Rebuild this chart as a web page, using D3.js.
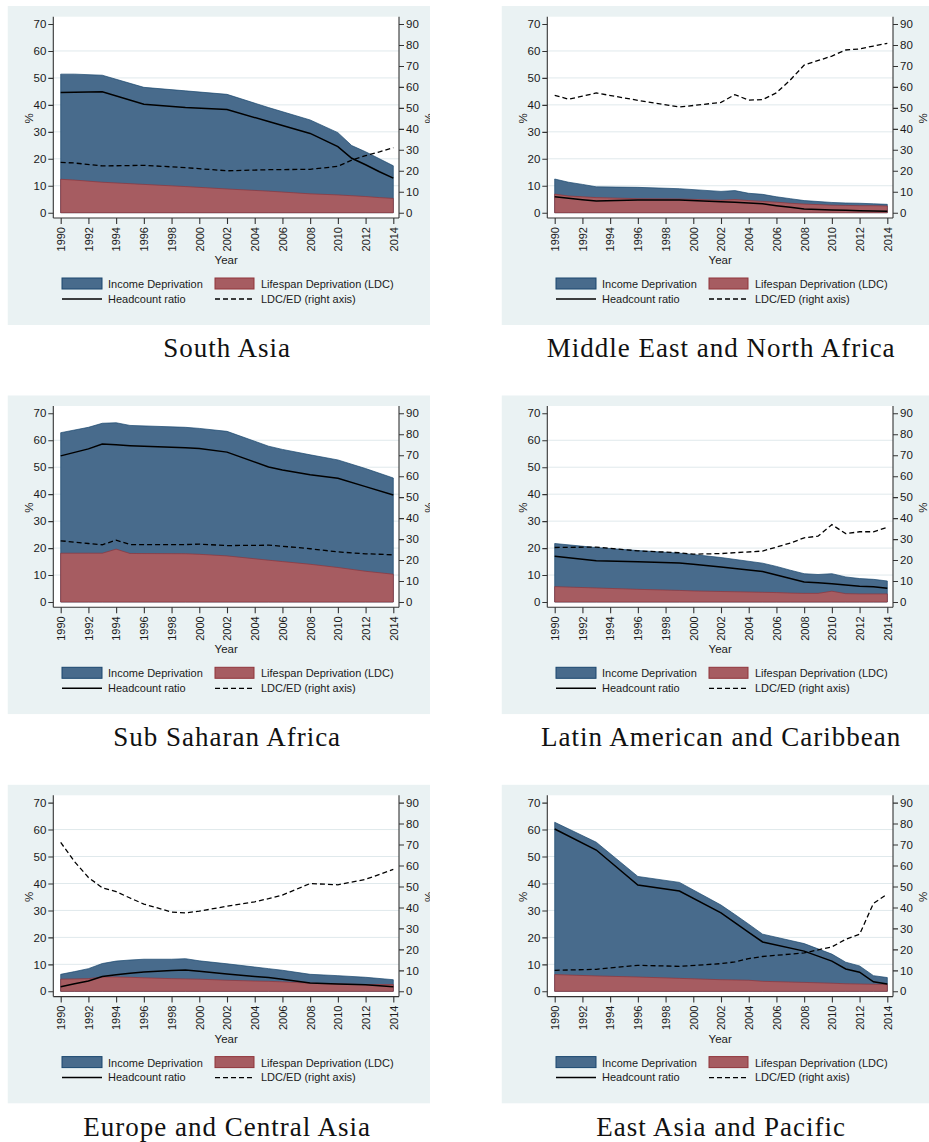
<!DOCTYPE html>
<html>
<head>
<meta charset="utf-8">
<script src="https://cdn.jsdelivr.net/npm/d3@7"></script>
<style>
  body { margin: 0; background: #fff; }
  svg { display: block; }
  text { font-family: "Liberation Sans", Arial, Helvetica, sans-serif; }
</style>
</head>
<body>
<svg id="chart" width="929" height="1142"></svg>
<script>
// ---- Regional poverty decomposition, 1990-2014 ----
// For each region: income = top of income-deprivation area, lifespan = lifespan deprivation (LDC),
// headcount = headcount ratio, ratio = LDC/ED (right axis). All in %.

const saYears     = [1990, 1991, 1993, 1996, 1999, 2002, 2005, 2008, 2010, 2011, 2012, 2013, 2014];
const saIncome    = [51.4, 51.4, 51.0, 46.5, 45.2, 43.9, 39.0, 34.4, 29.7, 24.9, 22.6, 20.0, 17.4];
const saLifespan  = [12.4, 12.1, 11.3, 10.5, 9.7, 8.8, 8.0, 7.0, 6.6, 6.3, 6.0, 5.6, 5.3];
const saHeadcount = [44.6, 44.7, 44.9, 40.2, 39.0, 38.3, 33.8, 29.4, 24.5, 20.2, 17.8, 15.2, 12.8];
const saRatio     = [24.0, 23.7, 22.3, 22.6, 21.5, 20.0, 20.5, 20.7, 22.1, 25.1, 27.2, 29.0, 31.0];

const menaYears     = [1990, 1991, 1992, 1993, 1996, 1999, 2002, 2003, 2004, 2005, 2006, 2007, 2008, 2010, 2011, 2012, 2013, 2014];
const menaIncome    = [12.5, 11.3, 10.5, 9.6, 9.4, 8.9, 7.9, 8.2, 7.2, 6.8, 5.9, 5.2, 4.5, 3.8, 3.6, 3.5, 3.3, 3.1];
const menaLifespan  = [6.9, 6.2, 5.9, 5.6, 5.2, 5.1, 4.6, 4.9, 4.5, 4.2, 3.9, 3.5, 3.2, 2.8, 2.7, 2.6, 2.6, 2.5];
const menaHeadcount = [5.9, 5.4, 4.8, 4.3, 4.7, 4.7, 4.1, 3.9, 3.6, 3.3, 2.6, 2.0, 1.4, 1.0, 0.9, 0.7, 0.6, 0.5];
const menaRatio     = [56.0, 54.1, 55.6, 57.1, 53.6, 50.4, 52.6, 56.3, 53.7, 53.9, 57.2, 63.3, 70.4, 74.7, 77.6, 78.1, 79.5, 80.8];

const ssaYears     = [1990, 1992, 1993, 1994, 1995, 1999, 2000, 2002, 2005, 2006, 2008, 2010, 2012, 2014];
const ssaIncome    = [62.8, 64.8, 66.3, 66.5, 65.5, 64.8, 64.4, 63.3, 57.8, 56.6, 54.6, 52.7, 49.5, 46.0];
const ssaLifespan  = [18.1, 18.1, 18.1, 19.6, 18.0, 17.9, 17.7, 17.1, 15.5, 15.0, 14.0, 12.8, 11.4, 10.3];
const ssaHeadcount = [54.2, 56.8, 58.6, 58.3, 58.0, 57.2, 56.9, 55.6, 50.1, 49.0, 47.2, 45.9, 42.8, 39.7];
const ssaRatio     = [29.2, 27.9, 27.3, 29.5, 27.4, 27.4, 27.6, 26.9, 27.1, 26.6, 25.4, 23.9, 23.0, 22.5];

const lacYears     = [1990, 1993, 1996, 1999, 2000, 2002, 2005, 2006, 2007, 2008, 2009, 2010, 2011, 2012, 2013, 2014];
const lacIncome    = [21.7, 20.2, 19.1, 18.1, 17.6, 16.5, 14.4, 13.2, 11.8, 10.5, 10.2, 10.5, 9.3, 8.7, 8.4, 7.8];
const lacLifespan  = [5.7, 5.2, 4.7, 4.3, 4.1, 3.9, 3.6, 3.5, 3.3, 3.2, 3.2, 4.0, 3.1, 3.0, 3.0, 3.0];
const lacHeadcount = [17.0, 15.3, 14.9, 14.5, 14.0, 13.0, 11.3, 10.0, 8.7, 7.4, 7.1, 6.8, 6.3, 5.8, 5.7, 5.1];
const lacRatio     = [26.0, 26.2, 24.4, 23.5, 22.8, 23.1, 24.3, 26.2, 28.1, 30.6, 31.4, 36.9, 32.6, 33.5, 33.5, 35.6];

const ecaYears     = [1990, 1991, 1992, 1993, 1994, 1995, 1996, 1998, 1999, 2000, 2002, 2004, 2005, 2006, 2008, 2010, 2012, 2014];
const ecaIncome    = [6.3, 7.3, 8.4, 10.3, 11.2, 11.6, 11.9, 11.9, 12.1, 11.3, 10.2, 9.0, 8.4, 7.8, 6.3, 5.8, 5.2, 4.3];
const ecaLifespan  = [4.5, 4.6, 4.7, 5.3, 5.3, 5.2, 5.0, 4.7, 4.6, 4.5, 4.1, 3.8, 3.7, 3.5, 3.0, 2.7, 2.5, 2.5];
const ecaHeadcount = [1.7, 2.8, 3.8, 5.5, 6.1, 6.7, 7.2, 7.7, 7.9, 7.4, 6.4, 5.5, 5.1, 4.5, 3.1, 2.7, 2.4, 1.7];
const ecaRatio     = [71.0, 61.8, 54.3, 49.4, 47.5, 44.5, 41.6, 37.8, 37.4, 38.2, 40.6, 42.7, 44.2, 45.9, 51.4, 50.8, 53.4, 58.1];

const eapYears     = [1990, 1993, 1996, 1999, 2002, 2003, 2004, 2005, 2008, 2010, 2011, 2012, 2013, 2014];
const eapIncome    = [62.7, 55.3, 42.6, 40.4, 32.0, 28.5, 24.9, 21.2, 17.7, 13.8, 10.8, 9.4, 5.8, 5.1];
const eapLifespan  = [6.2, 5.7, 5.3, 4.8, 4.3, 4.2, 4.1, 3.7, 3.3, 3.0, 2.8, 2.7, 2.6, 2.5];
const eapHeadcount = [60.2, 52.4, 39.4, 37.2, 29.1, 25.5, 21.9, 18.3, 14.9, 11.2, 8.3, 7.1, 3.5, 2.7];
const eapRatio     = [10.0, 10.5, 12.4, 11.9, 13.2, 14.0, 15.6, 16.6, 18.3, 21.2, 24.8, 27.2, 41.9, 46.4];

// Axis ticks and labels
const leftTicks   = [0, 10, 20, 30, 40, 50, 60, 70];
const rightTicks  = [0, 10, 20, 30, 40, 50, 60, 70, 80, 90];
const yearTicks   = [1990, 1992, 1994, 1996, 1998, 2000, 2002, 2004, 2006, 2008, 2010, 2012, 2014];
const legendItems = ["Income Deprivation", "Lifespan Deprivation (LDC)", "Headcount ratio", "LDC/ED (right axis)"];

const regionNames = ["South Asia", "Middle East and North Africa", "Sub Saharan Africa",
                     "Latin American and Caribbean", "Europe and Central Asia", "East Asia and Pacific"];

const regions = [
  { years: saYears,   income: saIncome,   lifespan: saLifespan,   headcount: saHeadcount,   ratio: saRatio },
  { years: menaYears, income: menaIncome, lifespan: menaLifespan, headcount: menaHeadcount, ratio: menaRatio },
  { years: ssaYears,  income: ssaIncome,  lifespan: ssaLifespan,  headcount: ssaHeadcount,  ratio: ssaRatio },
  { years: lacYears,  income: lacIncome,  lifespan: lacLifespan,  headcount: lacHeadcount,  ratio: lacRatio },
  { years: ecaYears,  income: ecaIncome,  lifespan: ecaLifespan,  headcount: ecaHeadcount,  ratio: ecaRatio },
  { years: eapYears,  income: eapIncome,  lifespan: eapLifespan,  headcount: eapHeadcount,  ratio: eapRatio }
].map((r, i) => ({ ...r, name: regionNames[i], col: i % 2, row: Math.floor(i / 2) }));

// ---- Styling ----
const C = {
  region: "#eaf2f3",
  grid: "#e0e9ec",
  incomeFill: "#486b8c", incomeLine: "#1a476f",
  lifeFill: "#a65c61", lifeLine: "#90353b",
  axis: "#333333", text: "#1a1a1a"
};

// ---- Panel geometry (local to each panel) ----
const colX = [0, 494];
const rowY = [0, 389.3, 778.6];
const G = {
  bgX: 7.5, bgY: 6, bgW: [422.5, 427.5], bgH: 319,
  plotL: 53.3, plotR: 399, plotT: 16.7, plotB: 218,
  xL: 60.7, xR: 393.3, y0: 212.7, yTop: 24
};

const svg = d3.select("#chart");
const defs = svg.append("defs");

const x = d3.scaleLinear().domain([1990, 2014]).range([G.xL, G.xR]);
const yL = d3.scaleLinear().domain([0, 70]).range([G.y0, G.yTop]);
const yR = d3.scaleLinear().domain([0, 90]).range([G.y0, G.yTop]);

regions.forEach((r, idx) => {
  const g = svg.append("g").attr("transform", `translate(${colX[r.col]},${rowY[r.row]})`);

  defs.append("clipPath").attr("id", "clip" + idx)
    .append("rect").attr("x", G.bgX).attr("y", G.bgY).attr("width", G.bgW[r.col]).attr("height", G.bgH);

  const p = g.append("g").attr("clip-path", `url(#clip${idx})`);

  p.append("rect").attr("x", G.bgX).attr("y", G.bgY)
    .attr("width", G.bgW[r.col]).attr("height", G.bgH).attr("fill", C.region);

  p.append("rect").attr("x", G.plotL).attr("y", G.plotT)
    .attr("width", G.plotR - G.plotL).attr("height", G.plotB - G.plotT).attr("fill", "#fff");

  // horizontal grid
  p.append("g").selectAll("line").data(leftTicks.filter(t => t > 0 && t < 70)).join("line")
    .attr("x1", G.plotL).attr("x2", G.plotR)
    .attr("y1", d => yL(d)).attr("y2", d => yL(d))
    .attr("stroke", C.grid).attr("stroke-width", 1);

  const rows = r.years.map((yr, i) => ({
    year: yr, income: r.income[i], lifespan: r.lifespan[i], headcount: r.headcount[i], ratio: r.ratio[i]
  }));

  const incomeArea = d3.area().x(d => x(d.year)).y0(yL(0)).y1(d => yL(d.income));
  const lifeArea = d3.area().x(d => x(d.year)).y0(yL(0)).y1(d => yL(d.lifespan));

  p.append("path").datum(rows).attr("d", incomeArea)
    .attr("fill", C.incomeFill).attr("stroke", C.incomeLine).attr("stroke-width", 0.7);
  p.append("path").datum(rows).attr("d", lifeArea)
    .attr("fill", C.lifeFill).attr("stroke", C.lifeLine).attr("stroke-width", 0.7);

  p.append("path").datum(rows)
    .attr("d", d3.line().x(d => x(d.year)).y(d => yL(d.headcount)))
    .attr("fill", "none").attr("stroke", "#000").attr("stroke-width", 1.5);

  p.append("path").datum(rows)
    .attr("d", d3.line().x(d => x(d.year)).y(d => yR(d.ratio)))
    .attr("fill", "none").attr("stroke", "#000").attr("stroke-width", 1.3)
    .attr("stroke-dasharray", "5,3");

  // axis lines
  const axisLines = [
    [G.plotL, G.plotT, G.plotL, G.plotB],
    [G.plotR, G.plotT, G.plotR, G.plotB],
    [G.plotL, G.plotB, G.plotR, G.plotB]
  ];
  p.append("g").selectAll("line").data(axisLines).join("line")
    .attr("x1", d => d[0]).attr("y1", d => d[1]).attr("x2", d => d[2]).attr("y2", d => d[3])
    .attr("stroke", C.axis).attr("stroke-width", 1.1);

  const styleAxis = sel => {
    sel.select(".domain").remove();
    sel.selectAll(".tick line").attr("stroke", C.axis).attr("stroke-width", 1.1);
    sel.selectAll(".tick text").attr("fill", C.text).style("font-size", "11.5px")
      .style("font-family", '"Liberation Sans", Arial, sans-serif');
  };

  p.append("g").attr("transform", `translate(${G.plotL},0)`)
    .call(d3.axisLeft(yL).tickValues(leftTicks).tickSize(5).tickPadding(2).tickFormat(d3.format("d")))
    .call(styleAxis);

  p.append("g").attr("transform", `translate(${G.plotR},0)`)
    .call(d3.axisRight(yR).tickValues(rightTicks).tickSize(5).tickPadding(2).tickFormat(d3.format("d")))
    .call(styleAxis);

  const xAxis = p.append("g").attr("transform", `translate(0,${G.plotB})`)
    .call(d3.axisBottom(x).tickValues(yearTicks).tickSize(6).tickFormat(d3.format("d")))
    .call(styleAxis);
  xAxis.selectAll(".tick text")
    .attr("transform", "rotate(-90)")
    .attr("x", -9).attr("y", 0).attr("dy", "0.35em")
    .attr("text-anchor", "end").style("font-size", "11px");

  // axis titles
  p.append("text").attr("transform", `translate(${G.plotL - 24},${(G.y0 + G.yTop) / 2}) rotate(-90)`)
    .attr("text-anchor", "middle").attr("dy", "0.35em").style("font-size", "11.5px").attr("fill", C.text).text("%");
  p.append("text").attr("transform", `translate(${G.plotR + 29.5},${(G.y0 + G.yTop) / 2}) rotate(-90)`)
    .attr("text-anchor", "middle").attr("dy", "0.35em").style("font-size", "11.5px").attr("fill", C.text).text("%");
  p.append("text").attr("x", (G.plotL + G.plotR) / 2).attr("y", 264)
    .attr("text-anchor", "middle").style("font-size", "11.5px").attr("fill", C.text).text("Year");

  // legend
  const lg = p.append("g");
  const cols = [62, 215];
  lg.append("rect").attr("x", cols[0]).attr("y", 278).attr("width", 40).attr("height", 11)
    .attr("fill", C.incomeFill).attr("stroke", C.incomeLine).attr("stroke-width", 1);
  lg.append("rect").attr("x", cols[1]).attr("y", 278).attr("width", 39).attr("height", 11)
    .attr("fill", C.lifeFill).attr("stroke", C.lifeLine).attr("stroke-width", 1);
  lg.append("line").attr("x1", cols[0]).attr("x2", cols[0] + 40).attr("y1", 299).attr("y2", 299)
    .attr("stroke", "#000").attr("stroke-width", 1.5);
  lg.append("line").attr("x1", cols[1]).attr("x2", cols[1] + 39).attr("y1", 299).attr("y2", 299)
    .attr("stroke", "#000").attr("stroke-width", 1.3).attr("stroke-dasharray", "5,3");
  const lpos = [[108, 288], [261, 288], [108, 302.5], [261, 302.5]];
  lg.selectAll("text").data(legendItems).join("text")
    .attr("x", (d, i) => lpos[i][0]).attr("y", (d, i) => lpos[i][1])
    .style("font-size", "11px").attr("fill", C.text).text(d => d);

  // region title
  g.append("text").attr("x", (G.plotL + G.plotR) / 2 + 1).attr("y", 357)
    .attr("text-anchor", "middle")
    .style("font-family", '"Liberation Serif", "Times New Roman", serif')
    .style("font-size", "27px").style("letter-spacing", "1px")
    .attr("fill", "#111").text(r.name);
});
</script>
</body>
</html>
